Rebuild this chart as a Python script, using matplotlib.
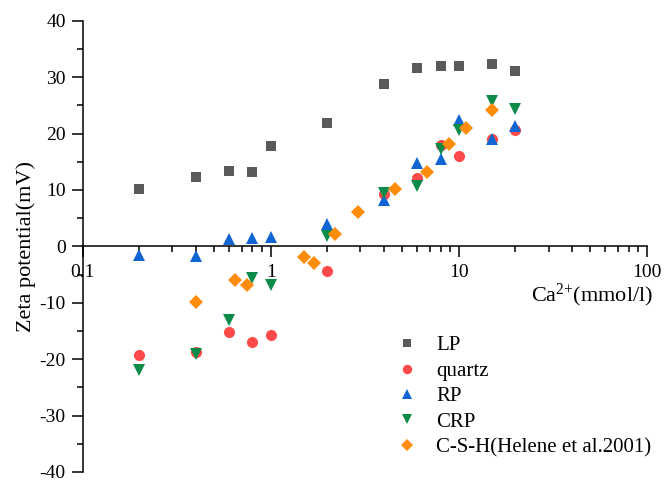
import matplotlib
matplotlib.use('Agg')
import matplotlib.pyplot as plt
from matplotlib.ticker import LogLocator, MultipleLocator, FixedLocator, NullFormatter

plt.rcParams['font.family'] = ['Liberation Serif', 'DejaVu Serif']
plt.rcParams['mathtext.fontset'] = 'custom'
plt.rcParams['mathtext.rm'] = 'Liberation Serif'
plt.rcParams['mathtext.default'] = 'regular'
plt.rcParams['axes.unicode_minus'] = False

# data
ca_conc = [0.2, 0.4, 0.6, 0.8, 1, 2, 4, 6, 8, 10, 15, 20]
lp = [10.1, 12.3, 13.3, 13.2, 17.7, 21.9, 28.8, 31.6, 32.0, 32.0, 32.3, 31.0]
quartz = [-19.2, -18.8, -15.1, -17.0, -15.7, -4.4, 9.2, 12.1, 18.0, 16.0, 19.1, 20.7]
rp = [-1.6, -1.7, 1.3, 1.5, 1.7, 4.0, 8.3, 14.7, 15.5, 22.4, 19.0, 21.3]
crp = [-21.9, -19.1, -13.0, -5.6, -6.9, 1.9, 9.5, 10.7, 17.2, 20.7, 25.7, 24.4]

csh_conc = [0.4, 0.65, 0.75, 1.5, 1.7, 2.2, 2.9, 4.6, 6.8, 8.9, 10.9, 15]
csh = [-9.8, -5.9, -6.9, -1.9, -2.9, 2.2, 6.0, 10.2, 13.1, 18.1, 21.0, 24.1]

fig = plt.figure(figsize=(6.67, 4.8), dpi=100)
ax = fig.add_axes([0.1237, 0.0167, 0.8463, 0.9402])

ax.plot(ca_conc, lp, 's', color='#5a5a5a', ms=7, mew=0, label='LP')
ax.plot(ca_conc, quartz, 'o', color='#ff4a4a', ms=8, mew=0, label='quartz')
ax.plot(ca_conc, rp, '^', color='#0f66d2', ms=9, mew=0, label='RP')
ax.plot(ca_conc, crp, 'v', color='#0c8a4a', ms=9, mew=0, label='CRP')
ax.plot(csh_conc, csh, 'D', color='#ff8c0a', ms=7.5, mew=0, label='C-S-H(Helene et al.2001)')

ax.set_xscale('log')
ax.set_xlim(0.1, 100)
ax.set_ylim(-40, 40)

for side in ['top', 'right']:
    ax.spines[side].set_visible(False)
ax.spines['bottom'].set_position(('data', 0))
ax.spines['bottom'].set_linewidth(1.1)
ax.spines['left'].set_linewidth(1.1)

ax.xaxis.set_major_locator(FixedLocator([0.1, 1, 10, 100]))
ax.xaxis.set_minor_locator(LogLocator(base=10, subs=range(2, 10)))
ax.xaxis.set_minor_formatter(NullFormatter())
ax.set_xticklabels(['0.1', '1', '10', '100'])
ax.yaxis.set_major_locator(MultipleLocator(10))
ax.yaxis.set_minor_locator(MultipleLocator(5))

ax.tick_params(axis='both', which='major', direction='out', length=8, width=1.1, labelsize=14)
ax.tick_params(axis='both', which='minor', direction='out', length=4.5, width=1.1)
ax.tick_params(axis='x', which='major', pad=5)
ax.tick_params(axis='y', which='major', pad=4)

ax.set_xlabel('Ca$^{2{+}}$(mmol/l)', fontsize=16, ha='right', va='center')
ax.xaxis.set_label_coords(1.011, 0.392)
ax.set_ylabel('Zeta potential(mV)', fontsize=16, va='center')
ax.yaxis.set_label_coords(-0.1, 0.5)

ax.legend(loc='upper left', bbox_to_anchor=(0.579, 0.322), bbox_transform=fig.transFigure,
          frameon=False, fontsize=15, handlelength=1.0, handletextpad=0.9,
          labelspacing=0.28, borderpad=0, numpoints=1, markerscale=0.85)

fig.savefig('out.png', dpi=100)
